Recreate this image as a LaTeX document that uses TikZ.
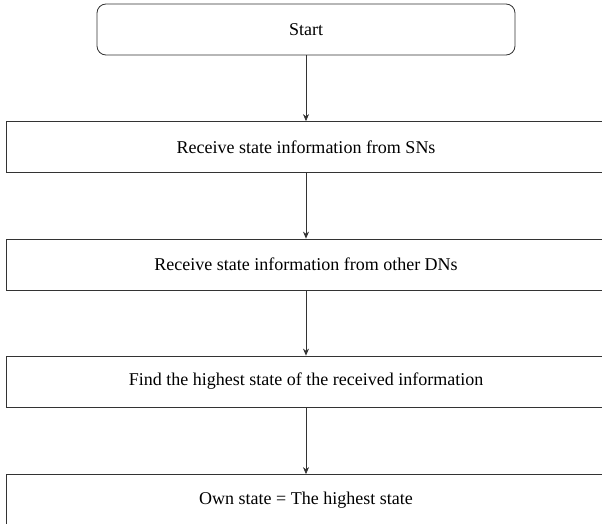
\documentclass[tikz,border=0pt]{standalone}
\usepackage{fontspec}
\setmainfont{Liberation Serif}
\usetikzlibrary{arrows.meta}
\begin{document}
\begin{tikzpicture}[x=1pt,y=-1pt,
  box/.style={draw=black!80,line width=0.8pt,minimum width=600pt,minimum height=51pt,inner sep=0pt,font=\fontsize{18}{21}\selectfont},
  startbox/.style={box,rounded corners=9pt,minimum width=418pt},
  conn/.style={draw=black!80,line width=0.7pt,-{Stealth[length=7pt,width=6pt]}}]
\useasboundingbox (0,0) rectangle (602,524);
\clip (0,0) rectangle (602,524);
\node[startbox] (s) at (306,29.5) {Start};
\node[box] (b1) at (306,147) {Receive state information from SNs};
\node[box] (b2) at (306,264.5) {Receive state information from other DNs};
\node[box] (b3) at (306,381.5) {Find the highest state of the received information};
\node[box] (b4) at (306,500) {Own state = The highest state};
\draw[conn] (s) -- (b1);
\draw[conn] (b1) -- (b2);
\draw[conn] (b2) -- (b3);
\draw[conn] (b3) -- (b4);
\end{tikzpicture}
\end{document}
